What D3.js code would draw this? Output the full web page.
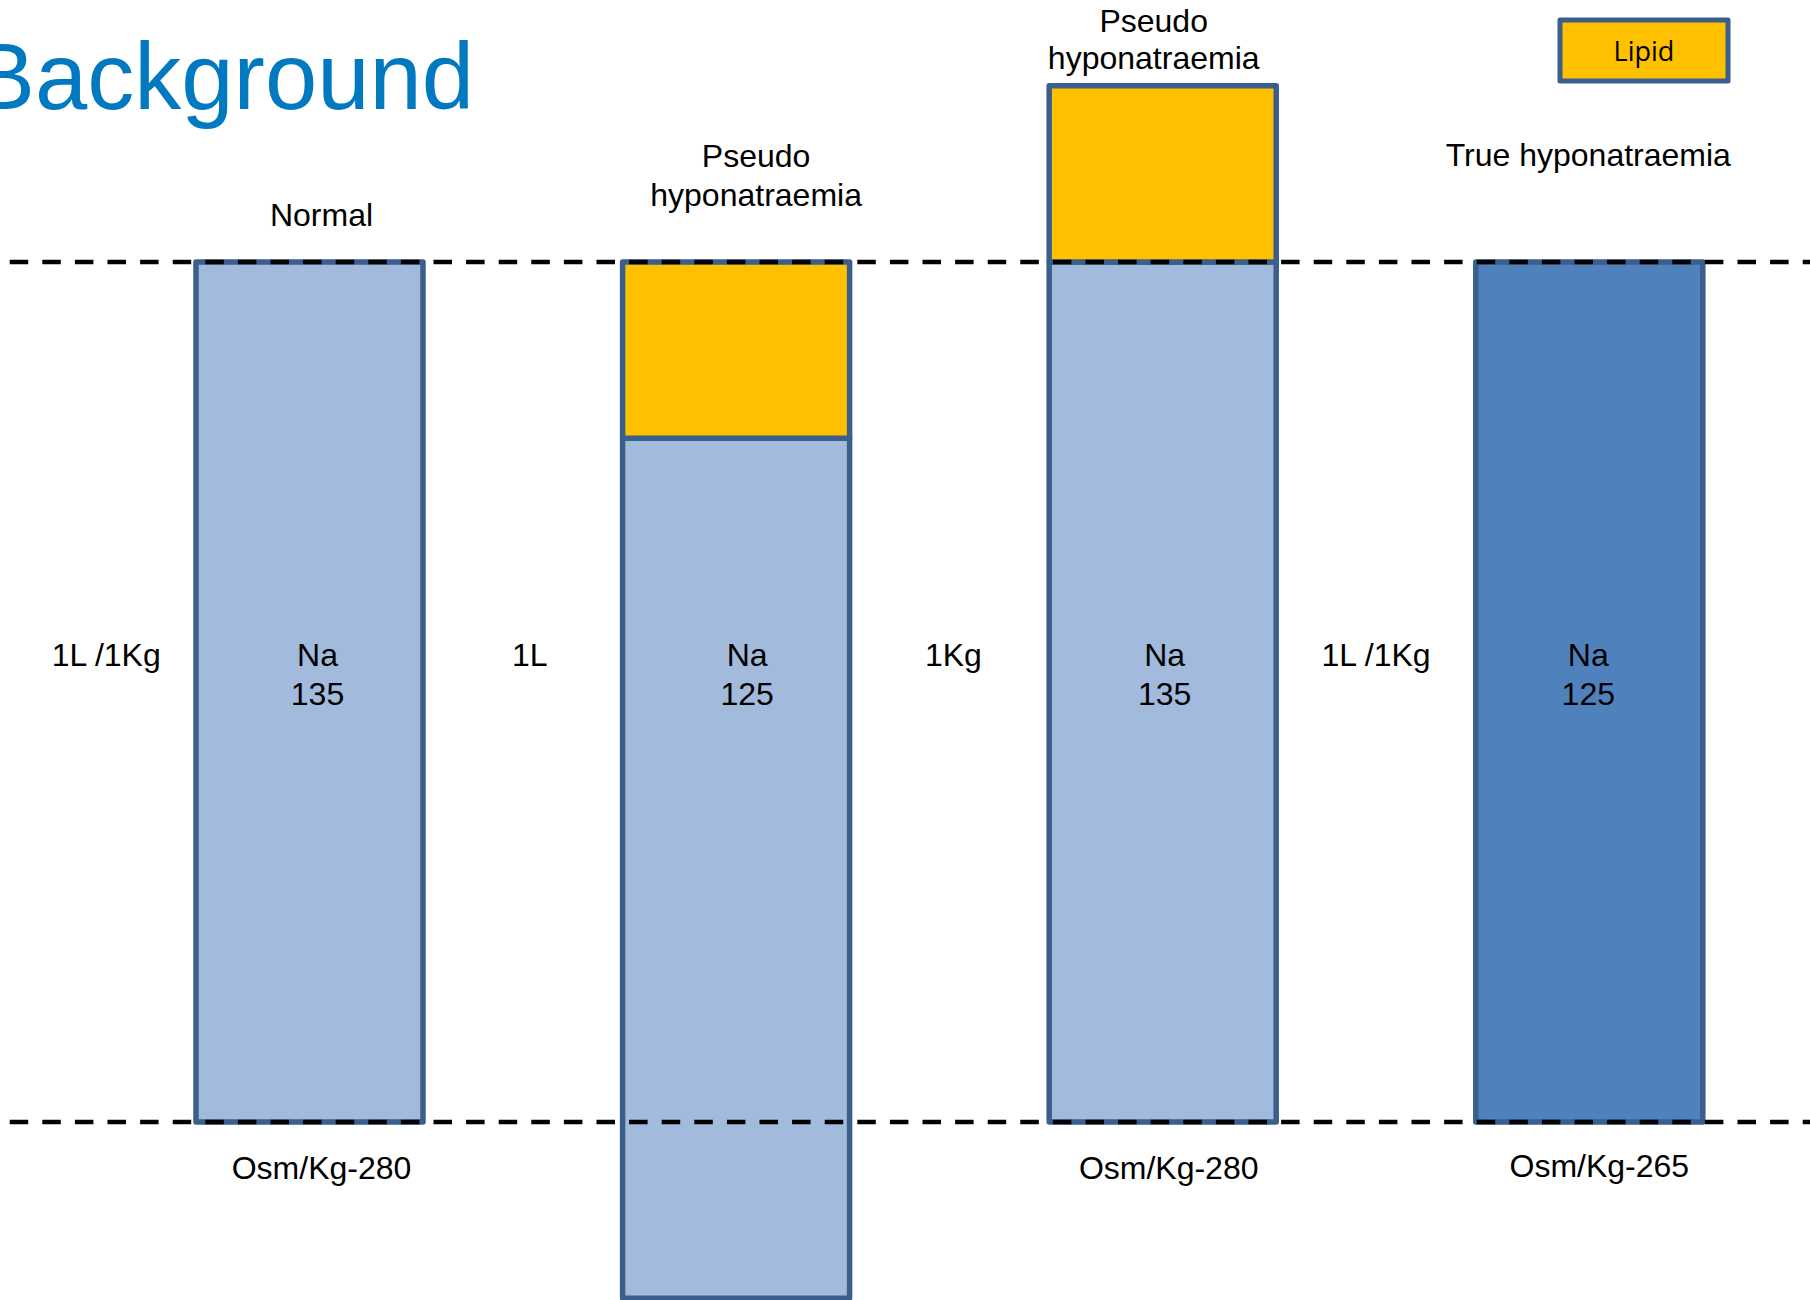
<!DOCTYPE html>
<html>
<head>
<meta charset="utf-8">
<script src="https://cdn.jsdelivr.net/npm/d3@7"></script>
<style>
  html, body { margin: 0; padding: 0; background: #ffffff; }
  svg { display: block; }
</style>
</head>
<body>
<svg id="chart" width="1810" height="1300"></svg>
<script>
// ---- data ----
const caseIds = ["normal", "pseudoLitre", "pseudoKg", "trueHypo"];
const categoryLines = [["Normal"], ["Pseudo", "hyponatraemia"], ["Pseudo", "hyponatraemia"], ["True hyponatraemia"]];
const waterBase = [0, -0.205, 0, 0];
const waterVolume = [1, 1, 1, 1];
const lipidVolume = [0, 0.205, 0.205, 0];
const sodiumLabels = ["135", "125", "135", "125"];
const osmolalityLabels = ["Osm/Kg-280", "", "Osm/Kg-280", "Osm/Kg-265"];
const unitLabels = ["1L /1Kg", "1L", "1Kg", "1L /1Kg"];
const waterKind = ["normal", "normal", "normal", "dilute"];
const referenceLevels = [0, 1];
const legendLabel = "Lipid";
const titleText = "Background";

// ---- styles / layout ----
const colors = {
  normal: "#A2BADB",
  dilute: "#4F81BD",
  lipid: "#FFC000",
  stroke: "#3B5F8D",
  title: "#0079C1",
  text: "#000000"
};
const labelLift = [36, 56, 17, 96];
const lineGap = [39, 39, 37, 39];
const labelDx = [12, 20, -9, -1];
const naDx = [8, 11, 2, -1];
const osmDx = [12, 0, 6, 10];
const unitDx = [10, 7, 4, 0];
const labelFont = "'Liberation Sans', Arial, sans-serif";
const fs = 32;

const svg = d3.select("#chart");

const x = d3.scaleBand()
  .domain(caseIds)
  .range([196, 1702.8])
  .paddingInner(1 - 227 / 426.6)
  .paddingOuter(0);

const y = d3.scaleLinear().domain([0, 1]).range([1122, 262]);

const rows = caseIds.map((id, i) => ({
  id, i,
  base: waterBase[i],
  water: waterVolume[i],
  lipid: lipidVolume[i],
  kind: waterKind[i]
}));
const cx = d => x(d.id) + x.bandwidth() / 2;

// title
svg.append("text")
  .attr("x", 474)
  .attr("y", 109)
  .attr("text-anchor", "end")
  .attr("font-family", labelFont)
  .attr("font-size", 94)
  .attr("fill", colors.title)
  .text(titleText);

// water bars
svg.selectAll("rect.water").data(rows).join("rect")
  .attr("class", "water")
  .attr("x", d => x(d.id))
  .attr("width", x.bandwidth())
  .attr("y", d => y(d.base + d.water))
  .attr("height", d => y(d.base) - y(d.base + d.water))
  .attr("fill", d => colors[d.kind])
  .attr("stroke", colors.stroke)
  .attr("stroke-width", 5.5)
  .attr("stroke-linejoin", "round");

// lipid bars
svg.selectAll("rect.lipid").data(rows.filter(d => d.lipid > 0)).join("rect")
  .attr("class", "lipid")
  .attr("x", d => x(d.id))
  .attr("width", x.bandwidth())
  .attr("y", d => y(d.base + d.water + d.lipid))
  .attr("height", d => y(d.base + d.water) - y(d.base + d.water + d.lipid))
  .attr("fill", colors.lipid)
  .attr("stroke", colors.stroke)
  .attr("stroke-width", 5.5)
  .attr("stroke-linejoin", "round");

// dashed reference lines
svg.selectAll("line.ref").data(referenceLevels).join("line")
  .attr("class", "ref")
  .attr("x1", -22.9)
  .attr("x2", 1810)
  .attr("y1", d => y(d))
  .attr("y2", d => y(d))
  .attr("stroke", "#000")
  .attr("stroke-width", 4.5)
  .attr("stroke-dasharray", "18.5 14.1");

// category labels above bars
rows.forEach(d => {
  const lines = categoryLines[d.i];
  const topY = y(d.base + d.water + d.lipid);
  const lastBaseline = topY - labelLift[d.i];
  const t = svg.append("text")
    .attr("text-anchor", "middle")
    .attr("font-family", labelFont)
    .attr("font-size", fs)
    .attr("fill", colors.text);
  lines.forEach((ln, k) => {
    t.append("tspan")
      .attr("x", cx(d) + labelDx[d.i])
      .attr("y", lastBaseline - (lines.length - 1 - k) * lineGap[d.i])
      .text(ln);
  });
});

// Na labels inside bars
rows.forEach(d => {
  const t = svg.append("text")
    .attr("text-anchor", "middle")
    .attr("font-family", labelFont)
    .attr("font-size", fs)
    .attr("fill", colors.text);
  t.append("tspan").attr("x", cx(d) + naDx[d.i]).attr("y", y(0.5) - 26).text("Na");
  t.append("tspan").attr("x", cx(d) + naDx[d.i]).attr("y", y(0.5) + 13).text(sodiumLabels[d.i]);
});

// unit labels in gaps
const gap = x.step() - x.bandwidth();
svg.selectAll("text.unit").data(rows).join("text")
  .attr("class", "unit")
  .attr("x", d => x(d.id) - gap / 2 + unitDx[d.i])
  .attr("y", y(0.5) - 26)
  .attr("text-anchor", "middle")
  .attr("font-family", labelFont)
  .attr("font-size", fs)
  .attr("fill", colors.text)
  .text(d => unitLabels[d.i]);

// osmolality labels under bars
svg.selectAll("text.osm").data(rows.filter(d => osmolalityLabels[d.i])).join("text")
  .attr("class", "osm")
  .attr("x", d => cx(d) + osmDx[d.i])
  .attr("y", d => y(0) + (d.i === 3 ? 55 : 57))
  .attr("text-anchor", "middle")
  .attr("font-family", labelFont)
  .attr("font-size", fs)
  .attr("fill", colors.text)
  .text(d => osmolalityLabels[d.i]);

// legend
const legend = svg.append("g").attr("transform", "translate(1560,20)");
legend.append("rect")
  .attr("width", 168)
  .attr("height", 61)
  .attr("fill", colors.lipid)
  .attr("stroke", colors.stroke)
  .attr("stroke-width", 5)
  .attr("stroke-linejoin", "round");
legend.append("text")
  .attr("x", 84)
  .attr("y", 41)
  .attr("text-anchor", "middle")
  .attr("font-family", "'Open Sans', Lato, sans-serif")
  .attr("font-size", 27)
  .attr("fill", colors.text)
  .text(legendLabel);
</script>
</body>
</html>
